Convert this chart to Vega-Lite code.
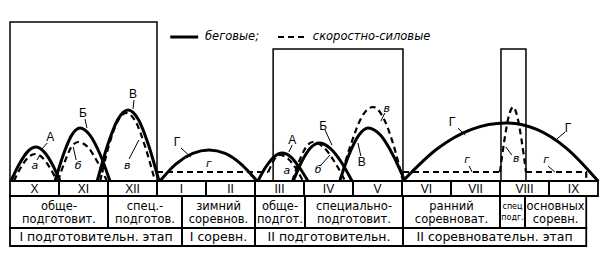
{
  "$schema": "https://vega.github.io/schema/vega-lite/v6.json",
  "width": 605,
  "height": 265,
  "padding": 0,
  "autosize": {"type": "none"},
  "background": "white",
  "config": {"view": {"stroke": null}, "text": {"font": "DejaVu Sans", "color": "black"}},
  "datasets": {
    "solid": [
      {"seg":"А1","i":0,"x":0.02,"y":0},{"seg":"А1","i":1,"x":0.19,"y":17},{"seg":"А1","i":2,"x":0.36,"y":29.4},{"seg":"А1","i":3,"x":0.53,"y":34},{"seg":"А1","i":4,"x":0.69,"y":29.4},{"seg":"А1","i":5,"x":0.86,"y":17},{"seg":"А1","i":6,"x":1.02,"y":0},
      {"seg":"Б1","i":0,"x":0.92,"y":0},{"seg":"Б1","i":1,"x":1.09,"y":26.5},{"seg":"Б1","i":2,"x":1.26,"y":45.9},{"seg":"Б1","i":3,"x":1.43,"y":53},{"seg":"Б1","i":4,"x":1.63,"y":45.9},{"seg":"Б1","i":5,"x":1.84,"y":26.5},{"seg":"Б1","i":6,"x":2.04,"y":0},
      {"seg":"В1","i":0,"x":1.78,"y":0},{"seg":"В1","i":1,"x":1.99,"y":35.5},{"seg":"В1","i":2,"x":2.2,"y":61.5},{"seg":"В1","i":3,"x":2.41,"y":71},{"seg":"В1","i":4,"x":2.62,"y":61.5},{"seg":"В1","i":5,"x":2.83,"y":35.5},{"seg":"В1","i":6,"x":3.04,"y":0},
      {"seg":"Г1","i":0,"x":3.06,"y":0},{"seg":"Г1","i":1,"x":3.39,"y":17.2},{"seg":"Г1","i":2,"x":3.73,"y":27.6},{"seg":"Г1","i":3,"x":4.06,"y":31},{"seg":"Г1","i":4,"x":4.39,"y":27.6},{"seg":"Г1","i":5,"x":4.71,"y":17.2},{"seg":"Г1","i":6,"x":5.04,"y":0},
      {"seg":"А2","i":0,"x":5.06,"y":0},{"seg":"А2","i":1,"x":5.22,"y":14},{"seg":"А2","i":2,"x":5.39,"y":24.2},{"seg":"А2","i":3,"x":5.55,"y":28},{"seg":"А2","i":4,"x":5.73,"y":24.2},{"seg":"А2","i":5,"x":5.9,"y":14},{"seg":"А2","i":6,"x":6.08,"y":0},
      {"seg":"Б2","i":0,"x":5.78,"y":0},{"seg":"Б2","i":1,"x":5.95,"y":19},{"seg":"Б2","i":2,"x":6.13,"y":32.9},{"seg":"Б2","i":3,"x":6.31,"y":38},{"seg":"Б2","i":4,"x":6.53,"y":32.9},{"seg":"Б2","i":5,"x":6.76,"y":19},{"seg":"Б2","i":6,"x":6.98,"y":0},
      {"seg":"В2","i":0,"x":6.73,"y":0},{"seg":"В2","i":1,"x":6.92,"y":26.5},{"seg":"В2","i":2,"x":7.12,"y":45.9},{"seg":"В2","i":3,"x":7.31,"y":53},{"seg":"В2","i":4,"x":7.56,"y":45.9},{"seg":"В2","i":5,"x":7.81,"y":26.5},{"seg":"В2","i":6,"x":8.06,"y":0},
      {"seg":"Г2","i":0,"x":8.02,"y":0},{"seg":"Г2","i":1,"x":8.72,"y":32.2},{"seg":"Г2","i":2,"x":9.42,"y":51.6},{"seg":"Г2","i":3,"x":10.12,"y":58},{"seg":"Г2","i":4,"x":10.75,"y":51.6},{"seg":"Г2","i":5,"x":11.37,"y":32.2},{"seg":"Г2","i":6,"x":12.0,"y":0}
    ],
    "dashed": [
      {"seg":"а1","i":0,"x":0.08,"y":0},{"seg":"а1","i":1,"x":0.22,"y":13.5},{"seg":"а1","i":2,"x":0.37,"y":23.4},{"seg":"а1","i":3,"x":0.51,"y":27},{"seg":"а1","i":4,"x":0.66,"y":23.4},{"seg":"а1","i":5,"x":0.81,"y":13.5},{"seg":"а1","i":6,"x":0.96,"y":0},
      {"seg":"б1","i":0,"x":0.98,"y":0},{"seg":"б1","i":1,"x":1.12,"y":19.5},{"seg":"б1","i":2,"x":1.25,"y":33.8},{"seg":"б1","i":3,"x":1.39,"y":39},{"seg":"б1","i":4,"x":1.59,"y":33.8},{"seg":"б1","i":5,"x":1.78,"y":19.5},{"seg":"б1","i":6,"x":1.98,"y":0},
      {"seg":"в1","i":0,"x":1.84,"y":0},{"seg":"в1","i":1,"x":2.01,"y":34},{"seg":"в1","i":2,"x":2.19,"y":58.9},{"seg":"в1","i":3,"x":2.37,"y":68},{"seg":"в1","i":4,"x":2.57,"y":58.9},{"seg":"в1","i":5,"x":2.76,"y":34},{"seg":"в1","i":6,"x":2.96,"y":0},
      {"seg":"а2","i":0,"x":5.27,"y":9},{"seg":"а2","i":1,"x":5.35,"y":17.5},{"seg":"а2","i":2,"x":5.43,"y":24},{"seg":"а2","i":3,"x":5.51,"y":26},{"seg":"а2","i":4,"x":5.67,"y":22.5},{"seg":"а2","i":5,"x":5.83,"y":13},{"seg":"а2","i":6,"x":5.98,"y":0},
      {"seg":"б2","i":0,"x":5.76,"y":0},{"seg":"б2","i":1,"x":5.9,"y":19.5},{"seg":"б2","i":2,"x":6.04,"y":33.8},{"seg":"б2","i":3,"x":6.18,"y":39},{"seg":"б2","i":4,"x":6.4,"y":33.8},{"seg":"б2","i":5,"x":6.62,"y":19.5},{"seg":"б2","i":6,"x":6.84,"y":0},
      {"seg":"в2","i":0,"x":6.73,"y":0},{"seg":"в2","i":1,"x":6.96,"y":37},{"seg":"в2","i":2,"x":7.18,"y":64.1},{"seg":"в2","i":3,"x":7.41,"y":74},{"seg":"в2","i":4,"x":7.61,"y":64.1},{"seg":"в2","i":5,"x":7.82,"y":37},{"seg":"в2","i":6,"x":8.02,"y":0},
      {"seg":"в3","i":0,"x":10.0,"y":9},{"seg":"в3","i":1,"x":10.09,"y":41},{"seg":"в3","i":2,"x":10.18,"y":65},{"seg":"в3","i":3,"x":10.27,"y":74},{"seg":"в3","i":4,"x":10.35,"y":65},{"seg":"в3","i":5,"x":10.44,"y":41},{"seg":"в3","i":6,"x":10.53,"y":9}
    ],
    "flats": [
      {"seg":"г1","i":0,"x":3.0,"y":9},{"seg":"г1","i":1,"x":5.27,"y":9},
      {"seg":"г2a","i":0,"x":8.02,"y":9},{"seg":"г2a","i":1,"x":10.0,"y":9},
      {"seg":"г2b","i":0,"x":10.53,"y":9},{"seg":"г2b","i":1,"x":11.76,"y":9},{"seg":"г2b","i":2,"x":11.76,"y":0}
    ],
    "boxes": [
      {"x":0,"x2":3.0,"y":0,"y2":159},
      {"x":5.37,"x2":8.02,"y":0,"y2":132},
      {"x":10.02,"x2":10.53,"y":0,"y2":132}
    ],
    "cells": [
      {"x":0,"x2":1,"y":0,"y2":-15},{"x":1,"x2":2,"y":0,"y2":-15},{"x":2,"x2":3,"y":0,"y2":-15},{"x":3,"x2":4,"y":0,"y2":-15},{"x":4,"x2":5,"y":0,"y2":-15},{"x":5,"x2":6,"y":0,"y2":-15},{"x":6,"x2":7,"y":0,"y2":-15},{"x":7,"x2":8,"y":0,"y2":-15},{"x":8,"x2":9,"y":0,"y2":-15},{"x":9,"x2":10,"y":0,"y2":-15},{"x":10,"x2":11,"y":0,"y2":-15},{"x":11,"x2":12,"y":0,"y2":-15},
      {"x":0,"x2":2,"y":-15,"y2":-47},{"x":2,"x2":3.51,"y":-15,"y2":-47},{"x":3.51,"x2":5,"y":-15,"y2":-47},{"x":5,"x2":6.02,"y":-15,"y2":-47},{"x":6.02,"x2":8.02,"y":-15,"y2":-47},{"x":8.02,"x2":10,"y":-15,"y2":-47},{"x":10,"x2":10.51,"y":-15,"y2":-47},{"x":10.51,"x2":11.76,"y":-15,"y2":-47},
      {"x":0,"x2":3.51,"y":-47,"y2":-65},{"x":3.51,"x2":5,"y":-47,"y2":-65},{"x":5,"x2":8.02,"y":-47,"y2":-65},{"x":8.02,"x2":11.76,"y":-47,"y2":-65}
    ],
    "leaders": [
      {"x":0.76,"y":38,"x2":0.65,"y2":32},{"x":0.55,"y":21,"x2":0.61,"y2":26},
      {"x":1.53,"y":62,"x2":1.57,"y2":53},{"x":1.35,"y":21,"x2":1.29,"y2":34},
      {"x":2.53,"y":81,"x2":2.51,"y2":72},{"x":2.43,"y":22,"x2":2.63,"y2":41},
      {"x":3.49,"y":33,"x2":3.69,"y2":24},
      {"x":5.76,"y":36,"x2":5.69,"y2":29},
      {"x":6.43,"y":51,"x2":6.57,"y2":36},{"x":6.33,"y":15,"x2":6.53,"y2":26},
      {"x":7.16,"y":25,"x2":7.1,"y2":38},{"x":7.65,"y":68,"x2":7.57,"y2":60},
      {"x":9.14,"y":53,"x2":9.29,"y2":46},{"x":11.33,"y":49,"x2":11.16,"y2":42},
      {"x":9.37,"y":15,"x2":9.43,"y2":9},{"x":10.24,"y":26,"x2":10.12,"y2":34},{"x":10.98,"y":15,"x2":11.12,"y2":9}
    ],
    "legendSolid": [{"x":3.27,"x2":3.84,"y":144,"y2":144}],
    "legendDashed": [{"x":5.47,"x2":6.08,"y":144,"y2":144}],
    "legendText": [{"x":3.98,"y":144,"label":"беговые;"},{"x":6.18,"y":144,"label":"скоростно-силовые"}],
    "upper": [
      {"x":0.82,"y":44,"label":"А"},{"x":1.49,"y":68,"label":"Б"},{"x":2.51,"y":87,"label":"В"},{"x":3.41,"y":39,"label":"Г"},
      {"x":5.76,"y":41,"label":"А"},{"x":6.39,"y":55,"label":"Б"},{"x":7.18,"y":19,"label":"В"},{"x":9.02,"y":59,"label":"Г"},{"x":11.39,"y":53,"label":"Г"}
    ],
    "lower": [
      {"x":0.51,"y":15,"label":"а"},{"x":1.39,"y":15,"label":"б"},{"x":2.39,"y":15,"label":"в"},{"x":4.06,"y":17,"label":"г"},
      {"x":5.65,"y":10,"label":"а"},{"x":6.29,"y":11,"label":"б"},{"x":7.69,"y":72,"label":"в"},{"x":9.33,"y":21,"label":"г"},{"x":10.33,"y":22,"label":"в"},{"x":10.94,"y":21,"label":"г"}
    ],
    "months": [
      {"x":0.5,"y":-7.5,"label":"X"},{"x":1.5,"y":-7.5,"label":"XI"},{"x":2.5,"y":-7.5,"label":"XII"},{"x":3.5,"y":-7.5,"label":"I"},{"x":4.5,"y":-7.5,"label":"II"},{"x":5.5,"y":-7.5,"label":"III"},{"x":6.5,"y":-7.5,"label":"IV"},{"x":7.5,"y":-7.5,"label":"V"},{"x":8.5,"y":-7.5,"label":"VI"},{"x":9.5,"y":-7.5,"label":"VII"},{"x":10.5,"y":-7.5,"label":"VIII"},{"x":11.5,"y":-7.5,"label":"IX"}
    ],
    "periods": [
      {"x":1.0,"y":-25.5,"label":"обще-\nподготовит."},
      {"x":2.755,"y":-25.5,"label":"спец.-\nподготов."},
      {"x":4.255,"y":-25.5,"label":"зимний\nсоревнов."},
      {"x":5.51,"y":-25.5,"label":"обще-\nподгот."},
      {"x":7.02,"y":-25.5,"label":"специально-\nподготовит."},
      {"x":9.01,"y":-25.5,"label":"ранний\nсоревноват."},
      {"x":11.135,"y":-25.5,"label":"основных\nсоревн."}
    ],
    "narrow": [{"x":10.255,"y":-25.5,"label":"спец\nподг."}],
    "stages": [
      {"x":1.755,"y":-56,"label":"I подготовительн. этап"},
      {"x":4.255,"y":-56,"label":"I соревн."},
      {"x":6.51,"y":-56,"label":"II подготовительн."},
      {"x":9.89,"y":-56,"label":"II соревновательн. этап"}
    ]
  },
  "encoding": {
    "x": {"field": "x", "type": "quantitative", "scale": {"domain": [-0.2041, 12.1429], "nice": false, "zero": false}, "axis": null},
    "y": {"field": "y", "type": "quantitative", "scale": {"domain": [-84, 181], "nice": false, "zero": false}, "axis": null}
  },
  "layer": [
    {"data": {"name": "boxes"}, "mark": {"type": "rect", "filled": false, "stroke": "black", "strokeWidth": 1.5},
     "encoding": {"x2": {"field": "x2"}, "y2": {"field": "y2"}}},
    {"data": {"name": "cells"}, "mark": {"type": "rect", "filled": false, "stroke": "black", "strokeWidth": 1.8},
     "encoding": {"x2": {"field": "x2"}, "y2": {"field": "y2"}}},
    {"data": {"name": "solid"}, "mark": {"type": "line", "interpolate": "monotone", "strokeWidth": 3, "color": "black"},
     "encoding": {"detail": {"field": "seg"}, "order": {"field": "i", "type": "quantitative"}}},
    {"data": {"name": "dashed"}, "mark": {"type": "line", "interpolate": "monotone", "strokeWidth": 2.2, "color": "black", "strokeDash": [6, 4]},
     "encoding": {"detail": {"field": "seg"}, "order": {"field": "i", "type": "quantitative"}}},
    {"data": {"name": "flats"}, "mark": {"type": "line", "strokeWidth": 2.2, "color": "black", "strokeDash": [6, 4]},
     "encoding": {"detail": {"field": "seg"}, "order": {"field": "i", "type": "quantitative"}}},
    {"data": {"name": "leaders"}, "mark": {"type": "rule", "strokeWidth": 1, "color": "black"},
     "encoding": {"x2": {"field": "x2"}, "y2": {"field": "y2"}}},
    {"data": {"name": "legendSolid"}, "mark": {"type": "rule", "strokeWidth": 3, "color": "black"},
     "encoding": {"x2": {"field": "x2"}, "y2": {"field": "y2"}}},
    {"data": {"name": "legendDashed"}, "mark": {"type": "rule", "strokeWidth": 2.2, "color": "black", "strokeDash": [6, 4]},
     "encoding": {"x2": {"field": "x2"}, "y2": {"field": "y2"}}},
    {"data": {"name": "legendText"}, "mark": {"type": "text", "align": "left", "baseline": "middle", "fontSize": 11.5, "fontStyle": "italic"},
     "encoding": {"text": {"field": "label"}}},
    {"data": {"name": "upper"}, "mark": {"type": "text", "align": "center", "baseline": "middle", "fontSize": 12, "font": "Liberation Sans"},
     "encoding": {"text": {"field": "label"}}},
    {"data": {"name": "lower"}, "mark": {"type": "text", "align": "center", "baseline": "middle", "fontSize": 11, "fontStyle": "italic"},
     "encoding": {"text": {"field": "label"}}},
    {"data": {"name": "months"}, "mark": {"type": "text", "align": "center", "baseline": "middle", "fontSize": 12, "font": "Liberation Sans"},
     "encoding": {"text": {"field": "label"}}},
    {"data": {"name": "periods"}, "mark": {"type": "text", "align": "center", "baseline": "middle", "fontSize": 11.5, "lineBreak": "\n", "lineHeight": 13},
     "encoding": {"text": {"field": "label"}}},
    {"data": {"name": "narrow"}, "mark": {"type": "text", "align": "center", "baseline": "middle", "fontSize": 8, "lineBreak": "\n", "lineHeight": 11},
     "encoding": {"text": {"field": "label"}}},
    {"data": {"name": "stages"}, "mark": {"type": "text", "align": "center", "baseline": "middle", "fontSize": 12.5},
     "encoding": {"text": {"field": "label"}}}
  ]
}
